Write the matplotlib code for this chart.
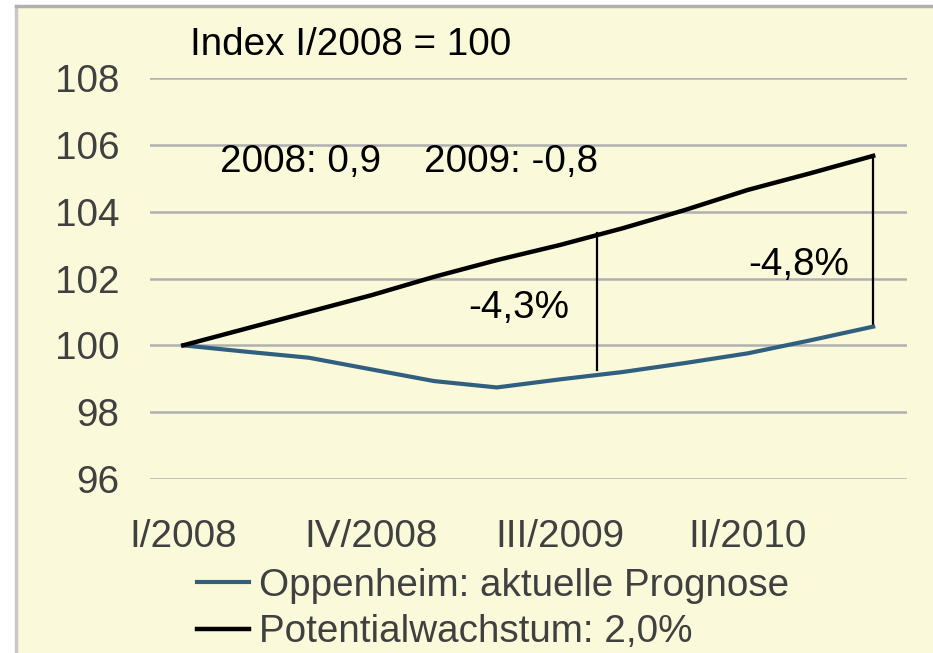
import matplotlib.pyplot as plt
from matplotlib.lines import Line2D
from matplotlib.patches import Rectangle

# quarters I/2008 .. IV/2010
quarters = ['I/2008', 'II/2008', 'III/2008', 'IV/2008',
            'I/2009', 'II/2009', 'III/2009', 'IV/2009',
            'I/2010', 'II/2010', 'III/2010', 'IV/2010']
oppenheim = [100, 99.81, 99.63, 99.28, 98.93, 98.74,
             98.98, 99.2, 99.47, 99.76, 100.15, 100.56]
potential = [100, 100.5, 101.0, 101.5, 102.05, 102.55,
             103.0, 103.5, 104.05, 104.65, 105.15, 105.67]
y_ticks = [96, 98, 100, 102, 104, 106, 108]

# gap markers (x position in quarters, from, to)
gap_2009 = (6.6, 103.37, 99.25)
gap_2010 = (11, 105.67, 100.56)

bg = '#FAFADA'
blue = '#31607F'
font = 'Liberation Sans'
fs = 27.8

fig = plt.figure(figsize=(9.33, 6.53), dpi=100)
fig.patch.set_facecolor('white')
# panel background with grey frame on top/left
fig.patches.append(Rectangle((16 / 933, 0), 1, 1 - 7 / 653, transform=fig.transFigure,
                             facecolor=bg, edgecolor='none', zorder=-2))
fig.add_artist(Line2D([16 / 933, 16 / 933], [0, 1 - 6 / 653], color='#C8C8C8', lw=2.5))
fig.add_artist(Line2D([16 / 933, 1], [1 - 6 / 653, 1 - 6 / 653], color='#B0B0B0', lw=2.5))

ax = fig.add_axes([150 / 933, 1 - 479 / 653, 757 / 933, 401 / 653])
ax.set_facecolor('none')

x = list(range(len(quarters)))
l1, = ax.plot(x, oppenheim, color=blue, lw=3, solid_joinstyle='round', zorder=3)
l2, = ax.plot(x, potential, color='black', lw=3.2, solid_joinstyle='round', zorder=3)

for gx, top, bot in (gap_2009, gap_2010):
    ax.plot([gx, gx], [top, bot], color='black', lw=1.6, zorder=2)

ax.set_xlim(-0.53, 11.54)
ax.set_ylim(96, 108)
ax.set_yticks(y_ticks)
ax.set_yticklabels([str(v) for v in y_ticks], fontsize=fs, family=font, color='#404040')
ax.set_xticks(x[::3])
ax.set_xticklabels(quarters[::3], fontsize=fs, family=font, color='#404040')
ax.tick_params(axis='y', length=0, pad=22)
ax.tick_params(axis='x', length=0, pad=29)
ax.grid(axis='y', color='#B0B0B0', lw=1.8)
ax.set_axisbelow(True)
for s in ax.spines.values():
    s.set_visible(False)

txt = dict(fontsize=fs, family=font, color='black', va='center', ha='left')
fig.text(190 / 933, 1 - 45 / 653, 'Index I/2008 = 100', **txt)
fig.text(220 / 933, 1 - 162 / 653, '2008: 0,9', **txt)
fig.text(424 / 933, 1 - 162 / 653, '2009: -0,8', **txt)
fig.text(468 / 933, 1 - 308 / 653, '-4,3%', **txt)
fig.text(748 / 933, 1 - 265 / 653, '-4,8%', **txt)

fig.legend([l1, l2], ['Oppenheim: aktuelle Prognose', 'Potentialwachstum: 2,0%'],
           loc='upper left', bbox_to_anchor=(197 / 933, 1 - 568 / 653),
           frameon=False, prop={'family': font, 'size': fs}, labelcolor='#404040',
           handlelength=1.35, handletextpad=0.25, labelspacing=0.27, borderpad=0,
           borderaxespad=0)

fig.savefig('out.png', dpi=100, facecolor='white')
